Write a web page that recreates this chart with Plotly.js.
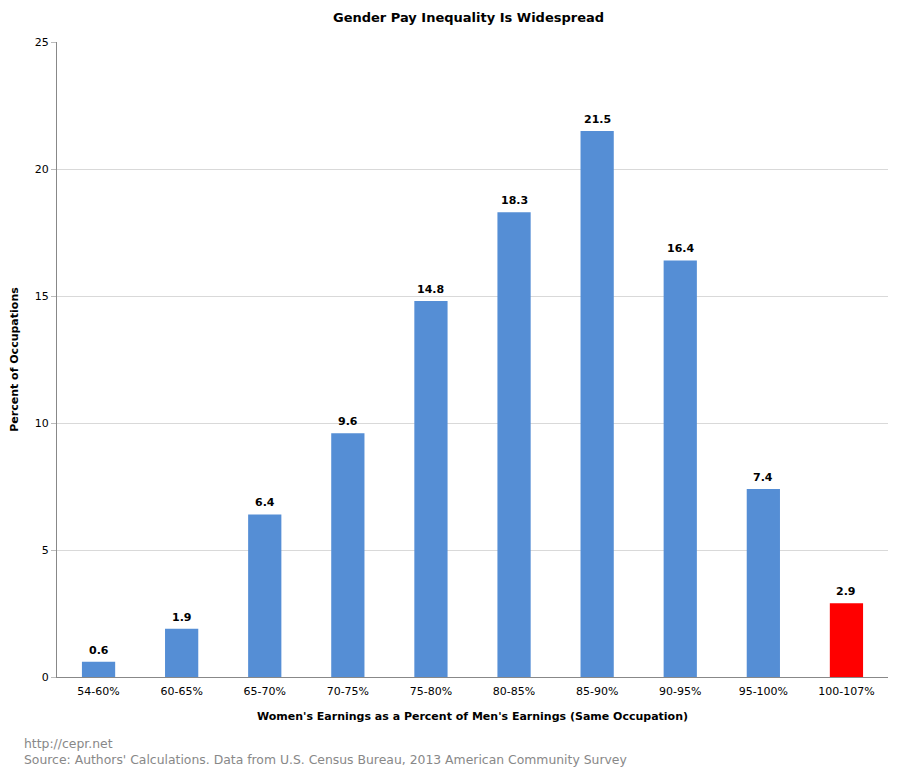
<!DOCTYPE html>
<html><head><meta charset="utf-8">
<script src="https://cdn.plot.ly/plotly-3.0.1.min.js"></script>
<style>body{margin:0;background:#fff}#c{width:901px;height:779px}</style>
</head><body><div id="c"></div>
<script>
const categories = ["54-60%","60-65%","65-70%","70-75%","75-80%","80-85%","85-90%","90-95%","95-100%","100-107%"];
const values = [0.6,1.9,6.4,9.6,14.8,18.3,21.5,16.4,7.4,2.9];
const barColors = ["#558ED5","#558ED5","#558ED5","#558ED5","#558ED5","#558ED5","#558ED5","#558ED5","#558ED5","#FF0000"];
const yTicks = [0,5,10,15,20,25];
const FONT = "Verdana, 'DejaVu Sans', sans-serif";
const labelAnns = categories.map((c, i) => ({
  x: c, y: values[i], xref: 'x', yref: 'y', text: values[i].toFixed(1), showarrow: false,
  yanchor: 'bottom', yshift: 3, font: {family: FONT, size: 11, color: '#000', weight: 'bold'}
}));
Plotly.newPlot('c', [{
  type: 'bar', x: categories, y: values,
  marker: {color: barColors},
  hoverinfo: 'none'
}], {
  width: 901, height: 779,
  margin: {l: 57, r: 13, t: 42, b: 102},
  paper_bgcolor: '#fff', plot_bgcolor: '#fff',
  font: {family: FONT, size: 11, color: '#000'},
  bargap: 0.6,
  showlegend: false,
  title: {text: 'Gender Pay Inequality Is Widespread', x: 0.52, xanchor: 'center', y: 0.978, yanchor: 'middle',
    font: {family: FONT, size: 13, color: '#000', weight: 'bold'}},
  xaxis: {type: 'category', showline: true, linecolor: '#888', linewidth: 1, ticks: '', showgrid: false,
    tickfont: {family: FONT, size: 11}, ticklabelstandoff: 4,
    title: {text: "Women's Earnings as a Percent of Men's Earnings (Same Occupation)", standoff: 15,
      font: {family: FONT, size: 11, weight: 'bold'}}},
  yaxis: {range: [0, 25], tickvals: yTicks, showline: true, linecolor: '#888', linewidth: 1,
    ticks: 'outside', ticklen: 5, tickcolor: '#bbb', gridcolor: '#d9d9d9', zeroline: false,
    tickfont: {family: FONT, size: 11},
    title: {text: 'Percent of Occupations', standoff: 13, font: {family: FONT, size: 11, weight: 'bold'}}},
  annotations: labelAnns.concat([{
    text: 'http://cepr.net<br>Source: Authors\' Calculations. Data from U.S. Census Bureau, 2013 American Community Survey',
    xref: 'paper', yref: 'paper', x: -57/831 + 22/831, y: 0, xanchor: 'left', yanchor: 'top', yshift: -57,
    align: 'left', showarrow: false, font: {family: FONT, size: 12.4, color: '#888'}
  }])
}, {staticPlot: true});
</script></body></html>
